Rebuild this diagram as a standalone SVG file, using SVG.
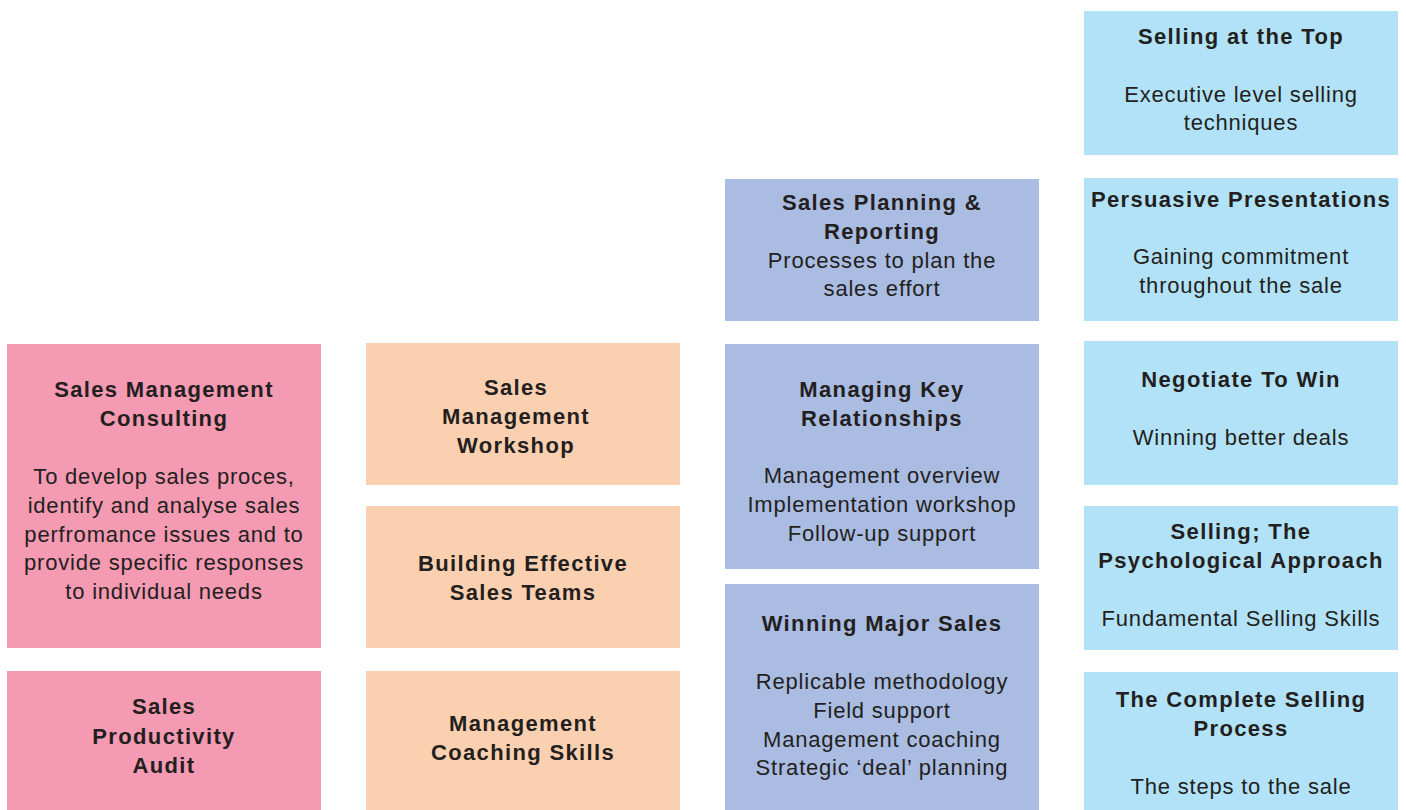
<svg xmlns="http://www.w3.org/2000/svg" width="1406" height="810" viewBox="0 0 1406 810">
<style>
text{font-family:"Liberation Sans",Arial,sans-serif;font-size:22px;fill:#231f20;text-anchor:middle;letter-spacing:0.8px}
.t{font-weight:bold;letter-spacing:1.35px}
.pink{fill:#f49ab3}.peach{fill:#fbd0b0}.lav{fill:#aabce2}.blue{fill:#b2e2f7}
</style>
<rect width="1406" height="810" fill="#ffffff"/>
<g id="connectors"/>
<g id="n-smc"><rect class="pink" x="7" y="344" width="314" height="304"/>
<text class="t" x="164" y="397">Sales Management</text><text class="t" x="164" y="426">Consulting</text>
<text x="164" y="484">To develop sales proces,</text><text x="164" y="513">identify and analyse sales</text><text x="164" y="542">perfromance issues and to</text><text x="164" y="570">provide specific responses</text><text x="164" y="599">to individual needs</text></g>
<g id="n-spa"><rect class="pink" x="7" y="671" width="314" height="139"/>
<text class="t" x="164" y="714">Sales</text><text class="t" x="164" y="744">Productivity</text><text class="t" x="164" y="773">Audit</text></g>
<g id="n-smw"><rect class="peach" x="366" y="343" width="314" height="142"/>
<text class="t" x="516" y="395">Sales</text><text class="t" x="516" y="424">Management</text><text class="t" x="516" y="453">Workshop</text></g>
<g id="n-best"><rect class="peach" x="366" y="506" width="314" height="142"/>
<text class="t" x="523" y="571">Building Effective</text><text class="t" x="523" y="600">Sales Teams</text></g>
<g id="n-mcs"><rect class="peach" x="366" y="671" width="314" height="139"/>
<text class="t" x="523" y="731">Management</text><text class="t" x="523" y="760">Coaching Skills</text></g>
<g id="n-spr"><rect class="lav" x="725" y="179" width="314" height="142"/>
<text class="t" x="882" y="210">Sales Planning &amp;</text><text class="t" x="882" y="239">Reporting</text>
<text x="882" y="268">Processes to plan the</text><text x="882" y="296">sales effort</text></g>
<g id="n-mkr"><rect class="lav" x="725" y="344" width="314" height="225"/>
<text class="t" x="882" y="397">Managing Key</text><text class="t" x="882" y="426">Relationships</text>
<text x="882" y="483">Management overview</text><text x="882" y="512">Implementation workshop</text><text x="882" y="541">Follow-up support</text></g>
<g id="n-wms"><rect class="lav" x="725" y="584" width="314" height="226"/>
<text class="t" x="882" y="631">Winning Major Sales</text>
<text x="882" y="689">Replicable methodology</text><text x="882" y="718">Field support</text><text x="882" y="747">Management coaching</text><text x="882" y="775">Strategic ‘deal’ planning</text></g>
<g id="n-satt"><rect class="blue" x="1084" y="11" width="314" height="144"/>
<text class="t" x="1241" y="44">Selling at the Top</text>
<text x="1241" y="102">Executive level selling</text><text x="1241" y="130">techniques</text></g>
<g id="n-pp"><rect class="blue" x="1084" y="178" width="314" height="143"/>
<text class="t" x="1241" y="207">Persuasive  Presentations</text>
<text x="1241" y="264">Gaining commitment</text><text x="1241" y="293">throughout the sale</text></g>
<g id="n-ntw"><rect class="blue" x="1084" y="341" width="314" height="144"/>
<text class="t" x="1241" y="387">Negotiate To Win</text>
<text x="1241" y="445">Winning better deals</text></g>
<g id="n-stpa"><rect class="blue" x="1084" y="506" width="314" height="144"/>
<text class="t" x="1241" y="539">Selling; The</text><text class="t" x="1241" y="568">Psychological Approach</text>
<text x="1241" y="626">Fundamental Selling Skills</text></g>
<g id="n-tcsp"><rect class="blue" x="1084" y="672" width="314" height="138"/>
<text class="t" x="1241" y="707">The Complete Selling</text><text class="t" x="1241" y="736">Process</text>
<text x="1241" y="794">The steps to the sale</text></g>
</svg>
